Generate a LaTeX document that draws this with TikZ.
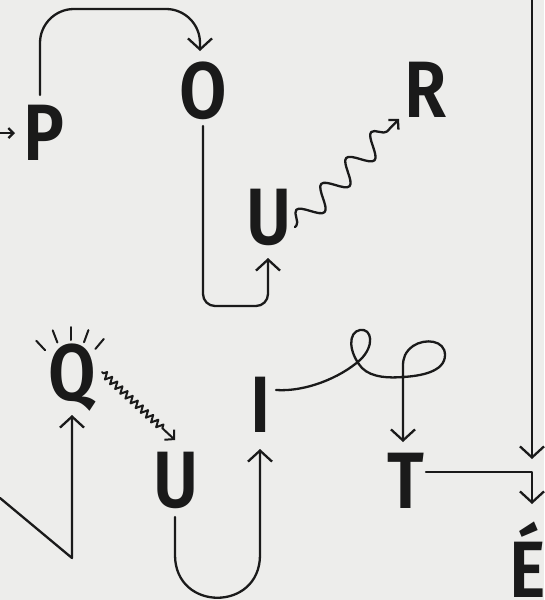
\documentclass[tikz,border=0pt]{standalone}
\usepackage{fontspec}
\setmainfont{Fira Sans}[BoldFont={Fira Sans SemiBold}, BoldFeatures={FakeStretch=0.86}]
\usetikzlibrary{arrows.meta,decorations.pathmorphing}
\definecolor{bg}{RGB}{237,237,235}
\definecolor{ink}{RGB}{26,26,26}
\begin{document}
\begin{tikzpicture}[x=1pt,y=-1pt,
  letter/.style={anchor=base, inner sep=0pt, font=\fontsize{80}{80}\selectfont\bfseries, text=ink},
  conn/.style={draw=ink, line width=2.3pt, line cap=round, line join=round},
  big/.style={-{Straight Barb[length=11pt,width=24pt]}},
  smallhead/.style={-{Straight Barb[length=6.5pt,width=14pt]}},
  tinyhead/.style={-{Straight Barb[length=5pt,width=10pt]}}]
\fill[bg] (0,0) rectangle (544,600);
\useasboundingbox (0,0) rectangle (544,600);
% letters
\node[letter] (P) at (44,160) {P};
\node[letter] (O) at (203,118) {O};
\node[letter] (R) at (426,117) {R};
\node[letter] (U1) at (269,244) {U};
\node[letter] (Q) at (72,400) {Q};
\node[letter] (U2) at (176,507) {U};
\node[letter] (I) at (261,432) {I};
\node[letter] (T) at (406,508) {T};
\node[letter] (E) at (528,597) {É};
% free ends
\coordinate (in0) at (0,133);
\coordinate (in1) at (0,498);
\coordinate (topend) at (532,0);
\coordinate (Qc) at ([shift={(-1,-22)}]Q.base);
% connectors
\draw[conn, tinyhead] (in0) -- ([shift={(-29,-27)}]P.base);
\draw[conn, big, rounded corners=34pt] ([shift={(-4,-65)}]P.base) -- (40,9) -- (200,9) -- ([shift={(-3,-67)}]O.base);
\draw[conn, big, rounded corners=12pt] ([shift={(0,8)}]O.base) -- (203,306) -- (268,306) -- ([shift={(-1,14)}]U1.base);
\draw[conn, smallhead, decorate, decoration={snake, amplitude=11pt, segment length=36pt, pre length=2pt, post length=9pt}] ([shift={(26,-17)}]U1.base) -- ([shift={(-27,2)}]R.base);
\foreach \a in {133,111,90,70,50}
  \draw[conn, line width=2pt] ([shift={(\a:38pt)}]Qc) -- ([shift={(\a:51pt)}]Qc);
\draw[conn, line width=2pt, smallhead, decorate, decoration={zigzag, amplitude=3.5pt, segment length=7pt, pre length=2pt, post length=14pt}] ([shift={(30,-28)}]Q.base) -- ([shift={(-1,-67)}]U2.base);
\draw[conn, big] (in1) -- (72,558) -- ([shift={(0,15)}]Q.base);
\draw[conn, big] ([shift={(-1,10)}]U2.base) -- (175,555) .. controls (175,612) and (260,612) .. (260,555) -- ([shift={(-1,17)}]I.base);
\draw[conn, big] ([shift={(15,-42)}]I.base) .. controls (305,392) and (340,378) .. (360,360) .. controls (375,346) and (372,328) .. (360,330) .. controls (348,332) and (348,352) .. (362,368) .. controls (372,378) and (390,378) .. (403,377) .. controls (420,376) and (445,372) .. (445,355) .. controls (445,340) and (425,338) .. (413,346) .. controls (405,352) and (403,358) .. (403,366) -- ([shift={(-3,-66)}]T.base);
\draw[conn, big] (topend) -- ([shift={(4,-138)}]E.base);
\draw[conn, big] ([shift={(20,-36)}]T.base) -- (532,472) -- ([shift={(4,-93)}]E.base);
\end{tikzpicture}
\end{document}
